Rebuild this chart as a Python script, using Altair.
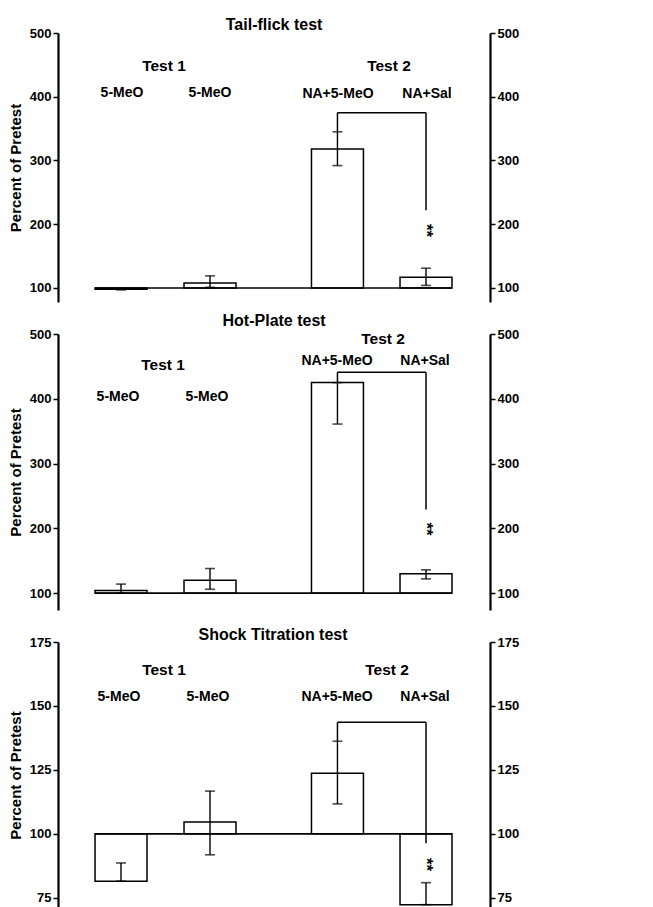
import altair as alt
import pandas as pd

FONT = "Liberation Sans"

# ---- data ----
bar_pos = [1.0, 2.0, 3.432, 4.427]
bar_half = 0.292
x_domain = [0.292, 5.146]

group_labels = ["5-MeO", "5-MeO", "NA+5-MeO", "NA+Sal"]

panel_titles = ["Tail-flick test", "Hot-Plate test", "Shock Titration test"]

tf_values = [98, 108, 318, 117]
tf_err_lo = [97, 101, 292, 104]
tf_err_hi = [99, 119, 345, 131]

hp_values = [104, 120, 425, 130]
hp_err_lo = [100, 106, 361, 122]
hp_err_hi = [114, 138, 425, 136]

st_values = [81.5, 104.6, 123.7, 72.3]
st_err_lo = [81.5, 91.8, 111.7, 72.3]
st_err_hi = [88.6, 116.7, 136.2, 80.9]

tf_ticks = [100, 200, 300, 400, 500]
hp_ticks = [100, 200, 300, 400, 500]
st_ticks = [75, 100, 125, 150, 175]

tf_domain = [78, 500]
hp_domain = [74, 500]
st_domain = [71, 175]

# bracket: top, left end, right end ; stars y
tf_bracket = [375, 345, 222]
hp_bracket = [441, 425, 229]
st_bracket = [143.6, 136.2, 96.3]
stars_y = [190, 199, 88]

# label positions (x, y) per panel: title, Test 1, Test 2, 4 group labels
tf_label_x = [2.72, 1.483, 4.011, 1.011, 2.0, 3.438, 4.438]
tf_label_y = [512.5, 448, 448, 406, 406, 405, 405]
hp_label_x = [2.72, 1.472, 3.944, 0.966, 1.966, 3.427, 4.416]
hp_label_y = [520.5, 452.6, 493, 403, 403, 459, 459]
st_label_x = [2.708, 1.483, 3.989, 0.977, 1.977, 3.427, 4.416]
st_label_y = [177.7, 164, 164, 153.4, 153.4, 153.4, 153.4]

label_sizes = [16, 15.5, 15.5, 14, 14, 14, 14]

BASE = 100


def panel(title, values, lo, hi, ticks, domain, height, bracket, star_y, lx, ly):
    ysc = alt.Scale(domain=domain, nice=False, zero=False)
    xsc = alt.Scale(domain=x_domain, nice=False, zero=False)
    bars = pd.DataFrame({
        "pos": bar_pos,
        "x0": [p - bar_half for p in bar_pos],
        "x1": [p + bar_half for p in bar_pos],
        "val": values,
        "base": [BASE] * 4,
        "lo": lo,
        "hi": hi,
    })
    X = lambda f: alt.X(f, scale=xsc, axis=None)
    Y = lambda f: alt.Y(f, scale=ysc, axis=None)

    rect = alt.Chart(bars).mark_rect(fill="white", stroke="black", strokeWidth=1.5).encode(
        x=X("x0:Q"), x2="x1:Q",
        y=alt.Y("val:Q", scale=ysc,
                axis=alt.Axis(orient="left", values=ticks, title="Percent of Pretest",
                              titlePadding=6, labelPadding=2)),
        y2="base:Q",
    )
    base_df = pd.DataFrame({"a": [bar_pos[0] - bar_half], "b": [bar_pos[3] + bar_half], "y": [BASE]})
    baseline = alt.Chart(base_df).mark_rule(color="black", strokeWidth=1.6).encode(
        x=X("a:Q"), x2="b:Q", y=Y("y:Q"))
    err = alt.Chart(bars).mark_rule(color="black", strokeWidth=1.4).encode(
        x=X("pos:Q"), y=Y("lo:Q"), y2="hi:Q")
    cap_lo = alt.Chart(bars).mark_tick(color="black", orient="horizontal", size=10, thickness=1.6).encode(
        x=X("pos:Q"), y=Y("lo:Q"))
    cap_hi = alt.Chart(bars).mark_tick(color="black", orient="horizontal", size=10, thickness=1.6).encode(
        x=X("pos:Q"), y=Y("hi:Q"))

    br = pd.DataFrame({"xl": [bar_pos[2]], "xr": [bar_pos[3]], "top": [bracket[0]],
                       "le": [bracket[1]], "re": [bracket[2]]})
    br_h = alt.Chart(br).mark_rule(color="black", strokeWidth=1.5).encode(
        x=X("xl:Q"), x2="xr:Q", y=Y("top:Q"))
    br_l = alt.Chart(br).mark_rule(color="black", strokeWidth=1.5).encode(
        x=X("xl:Q"), y=Y("top:Q"), y2="le:Q")
    br_r = alt.Chart(br).mark_rule(color="black", strokeWidth=1.5).encode(
        x=X("xr:Q"), y=Y("top:Q"), y2="re:Q")

    stars = alt.Chart(pd.DataFrame({"x": [bar_pos[3]], "y": [star_y], "t": ["**"]})).mark_text(
        font=FONT, fontSize=17, fontWeight="bold", angle=90, color="black").encode(
        x=X("x:Q"), y=Y("y:Q"), text="t:N")

    labels = pd.DataFrame({
        "x": lx, "y": ly,
        "t": [title, "Test 1", "Test 2"] + group_labels,
        "s": label_sizes,
    })
    txt = alt.Chart(labels).mark_text(font=FONT, fontWeight="bold", color="black").encode(
        x=X("x:Q"), y=Y("y:Q"), text="t:N",
        size=alt.Size("s:Q", scale=None, legend=None))

    right = alt.Chart(bars).mark_rule(opacity=0).encode(
        y=alt.Y("val:Q", scale=ysc,
                axis=alt.Axis(orient="right", values=ticks, title=None, labelPadding=2)))

    return alt.layer(rect, baseline, err, cap_lo, cap_hi, br_h, br_l, br_r, stars, txt, right).resolve_axis(
        y="independent").properties(width=432, height=height)


p1 = panel(panel_titles[0], tf_values, tf_err_lo, tf_err_hi, tf_ticks, tf_domain, 269,
           tf_bracket, stars_y[0], tf_label_x, tf_label_y)
p2 = panel(panel_titles[1], hp_values, hp_err_lo, hp_err_hi, hp_ticks, hp_domain, 276,
           hp_bracket, stars_y[1], hp_label_x, hp_label_y)
p3 = panel(panel_titles[2], st_values, st_err_lo, st_err_hi, st_ticks, st_domain, 266,
           st_bracket, stars_y[2], st_label_x, st_label_y)

chart = alt.vconcat(p1, p2, p3, spacing=32, bounds="flush").properties(
    padding={"left": 0, "top": 9, "right": 5, "bottom": 5}
).configure_view(stroke=None).configure_axis(
    domainColor="black", domainWidth=2.2, tickColor="black", tickWidth=1.5, tickSize=5,
    labelFont=FONT, labelFontSize=13, labelFontWeight="bold", labelColor="black",
    titleFont=FONT, titleFontSize=15, titleFontWeight="bold", titleColor="black",
    grid=False,
)

chart.save("out.html", embed_options={"renderer": "svg", "actions": False})
